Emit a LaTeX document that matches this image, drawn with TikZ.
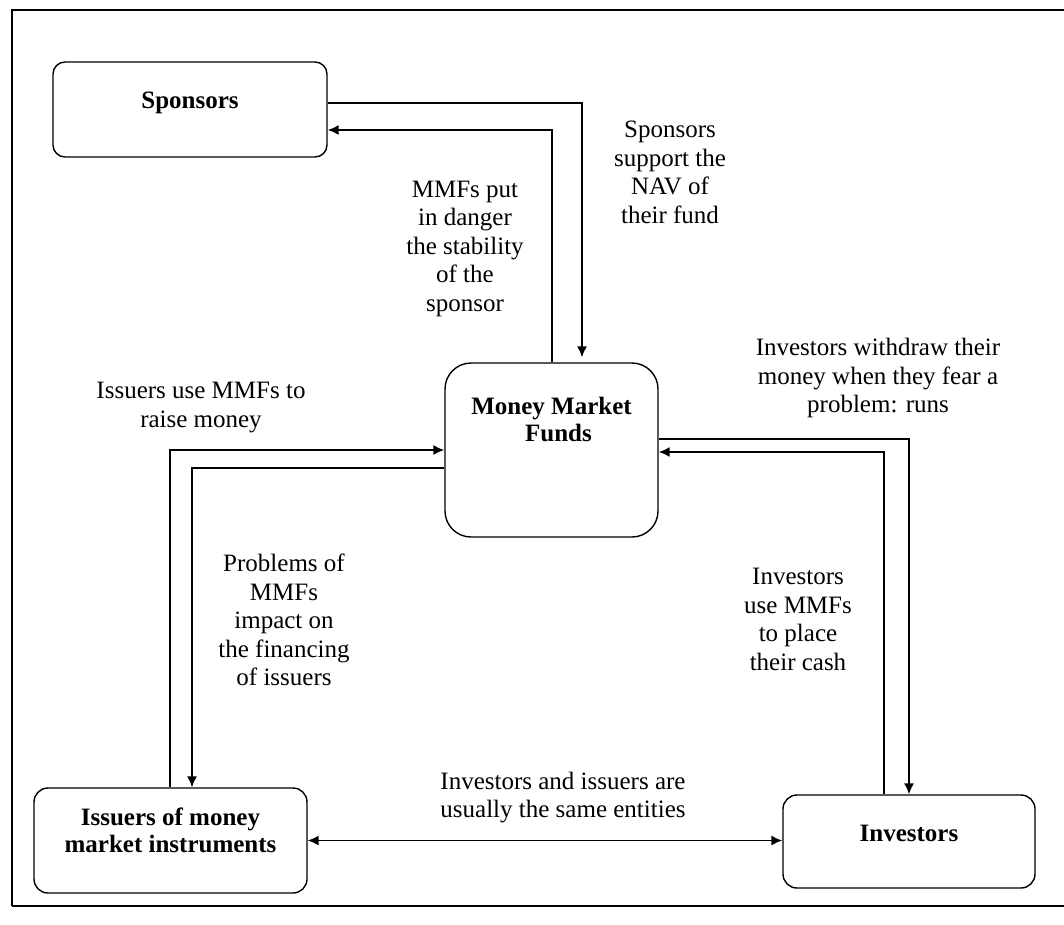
\documentclass[tikz,border=0pt]{standalone}
\usepackage{fontspec}
\setmainfont{Liberation Serif}
\usetikzlibrary{arrows.meta,calc}
\begin{document}
\begin{tikzpicture}[x=1pt,y=-1pt,
  box/.style={draw,line width=1.4pt,rounded corners=#1,inner sep=0pt},
  box/.default=12pt,
  boxtext/.style={font=\fontsize{25}{27}\selectfont\bfseries,align=center,inner sep=0pt},
  lbl/.style={font=\fontsize{25}{28.5}\selectfont,align=center,inner sep=0pt},
  conn/.style={line width=1.5pt,-{Latex[length=11pt,width=10pt]}},
  both/.style={line width=1.5pt,{Latex[length=11pt,width=10pt]}-{Latex[length=11pt,width=10pt]}}]
\useasboundingbox (0,0) rectangle (1064,924);
% frame
\draw[line width=1.6pt] (1064,10) -- (12,10) -- (12,906);
\draw[line width=2.6pt] (12,906) -- (1064,906);
% boxes
\node[box=12pt,minimum width=274pt,minimum height=95pt] (spon) at (190,109.5) {};
\node[box=26pt,minimum width=213pt,minimum height=174pt] (mmf) at (551.5,450) {};
\node[box=14pt,minimum width=273pt,minimum height=105pt] (iss) at (170.5,840.5) {};
\node[box=14pt,minimum width=252pt,minimum height=93pt] (inv) at (909,841.5) {};
% box texts
\node[boxtext] (spont) at ([yshift=7pt]spon.center) {Sponsors};
\node[boxtext] (mmft) at ([yshift=31pt]mmf.center) {Money Market\\\hspace*{14pt}Funds};
\node[boxtext] (isst) at ([yshift=10.5pt]iss.center) {Issuers of money\\market instruments};
\node[boxtext] (invt) at ([yshift=8.5pt]inv.center) {Investors};
% connectors
\draw[conn] ([yshift=6.5pt]spon.east) -| ([xshift=30.5pt,yshift=5pt]mmf.north);
\draw[conn] ([xshift=0.5pt]mmf.north) |- ([yshift=-20.5pt]spon.east);
\draw[conn] ([xshift=-0.5pt]iss.north) |- (mmf.west);
\draw[conn] ([yshift=-18pt]mmf.west) -| ([xshift=21.5pt]iss.north);
\draw[conn] ([yshift=11pt]mmf.east) -| (inv.north);
\draw[conn] ([xshift=-25pt]inv.north) |- ([yshift=-2pt]mmf.east);
\draw[both] (iss.east) -- (iss.east -| inv.west);
% labels
\node[lbl] (l1) at (670,172.5) {Sponsors\\support the\\NAV of\\their fund};
\node[lbl] (l2) at (465,248.5) {MMFs put\\in danger\\the stability\\of the\\sponsor};
\node[lbl] (l3) at (878,378) {Investors withdraw their\\money when they fear a\\problem: runs};
\node[lbl] (l4) at (201,407.5) {Issuers use MMFs to\\raise money};
\node[lbl] (l5) at (284,620) {Problems of\\MMFs\\impact on\\the financing\\of issuers};
\node[lbl] (l6) at (798,619.5) {Investors\\use MMFs\\to place\\their cash};
\node[lbl] (l7) at (563,797.5) {Investors and issuers are\\usually the same entities};
\end{tikzpicture}
\end{document}
